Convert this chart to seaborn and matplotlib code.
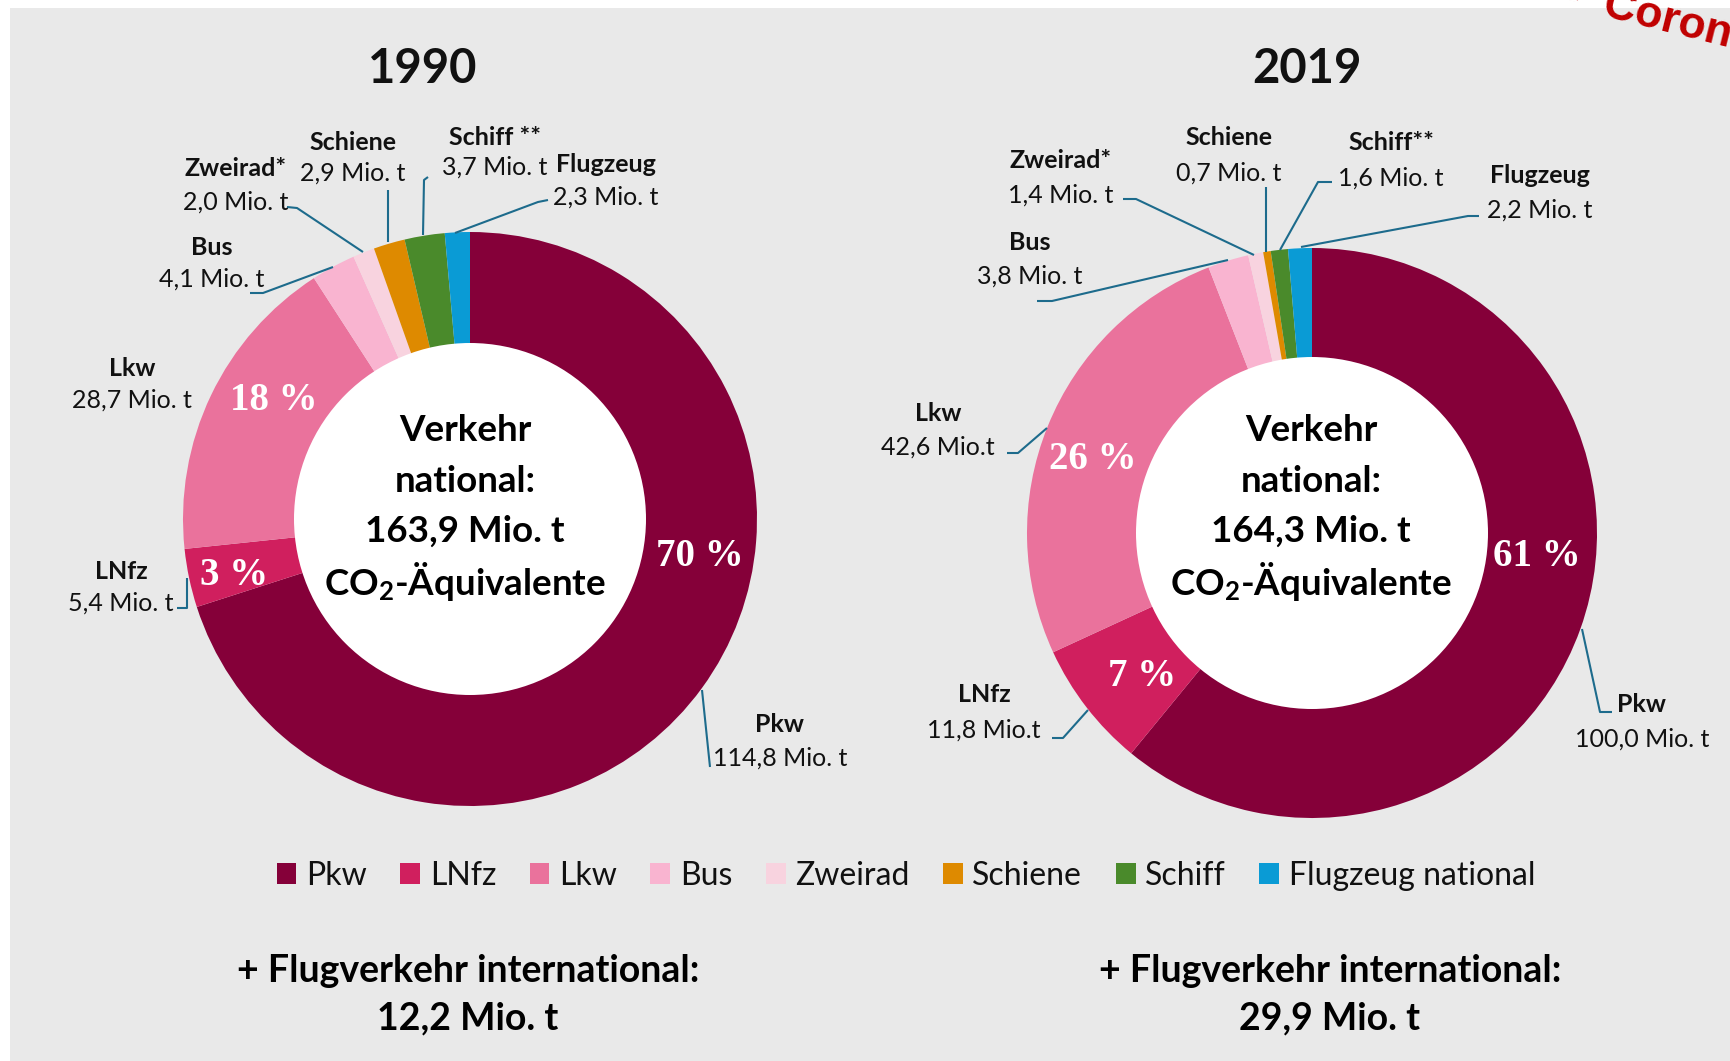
import matplotlib
matplotlib.use("Agg")
import matplotlib.pyplot as plt
from matplotlib.patches import Circle, Rectangle
import seaborn as sns

# ---------------- data ----------------
categories = ["Pkw", "LNfz", "Lkw", "Bus", "Zweirad", "Schiene", "Schiff", "Flugzeug"]
legend_labels = ["Pkw", "LNfz", "Lkw", "Bus", "Zweirad", "Schiene", "Schiff", "Flugzeug national"]
values_1990 = [114.8, 5.4, 28.7, 4.1, 2.0, 2.9, 3.7, 2.3]
values_2019 = [100.0, 11.8, 42.6, 3.8, 1.4, 0.7, 1.6, 2.2]
names_1990 = ["Pkw", "LNfz", "Lkw", "Bus", "Zweirad*", "Schiene", "Schiff **", "Flugzeug"]
names_2019 = ["Pkw", "LNfz", "Lkw", "Bus", "Zweirad*", "Schiene", "Schiff**", "Flugzeug"]
units_1990 = ["Mio. t"] * 8
units_2019 = ["Mio. t", "Mio.t", "Mio.t", "Mio. t", "Mio. t", "Mio. t", "Mio. t", "Mio. t"]
pct_1990 = ["70 %", "3 %", "18 %"]
pct_2019 = ["61 %", "7 %", "26 %"]
years = ["1990", "2019"]
totals = ["163,9", "164,3"]
intl = ["12,2", "29,9"]
colors = ["#850039", "#D01F5E", "#EA729C", "#F9B4D0", "#F8D3DF", "#DE8A00", "#4A8A2B", "#0A9BD5"]

# ---------------- style ----------------
sns.set_theme(style="white")
plt.rcParams["font.family"] = ["Lato", "DejaVu Sans"]
plt.rcParams["mathtext.default"] = "regular"
palette = sns.color_palette(colors)

W, H = 1731, 1061
fig = plt.figure(figsize=(W / 100, H / 100), dpi=100)
fig.patch.set_facecolor("white")
ax = fig.add_axes([0, 0, 1, 1])


def Y(py):
    return H - py


ax.add_patch(Rectangle((10, 0), W - 10, H - 8, facecolor="#E9E9E9", edgecolor="none", zorder=0))

LEADER = "#1D6B8C"
TXT = "#111111"

layouts = [
    dict(
        center=(470, 519), R=287, r=176, title=(423, 69), cx_text=465,
        pct_pos=[(700, 556), (234, 575), (274, 400)],
        labels=[(780, 725, 758), (121, 571, 603), (132, 368, 400), (212, 247, 279),
                (236, 168, 202), (353, 142, 173), (495, 137, 167), (606, 164, 197)],
        leaders=[[(702, 690), (710, 767)],
                 [(177, 608), (187, 608), (187, 578)],
                 [],
                 [(250, 293), (263, 293), (333, 267)],
                 [(287, 207), (297, 208), (363, 252)],
                 [(388, 190), (388, 242)],
                 [(428, 177), (424, 180), (423, 235)],
                 [(548, 200), (538, 202), (455, 233)]],
        bottom=(468, 971, 1018),
    ),
    dict(
        center=(1312, 533), R=285, r=176, title=(1307, 69), cx_text=1311,
        pct_pos=[(1537, 556), (1142, 677), (1093, 459)],
        labels=[(1642, 705, 739), (984, 695, 730), (938, 413, 447), (1030, 242, 276),
                (1061, 160, 195), (1229, 137, 173), (1391, 142, 178), (1540, 175, 210)],
        leaders=[[(1582, 629), (1600, 712), (1612, 712)],
                 [(1052, 738), (1063, 738), (1088, 710)],
                 [(1007, 453), (1018, 453), (1047, 428)],
                 [(1037, 301), (1052, 301), (1228, 260)],
                 [(1123, 199), (1136, 199), (1254, 255)],
                 [(1266, 187), (1266, 252)],
                 [(1332, 182), (1318, 182), (1280, 250)],
                 [(1479, 216), (1468, 216), (1301, 247)]],
        bottom=(1330, 971, 1018),
    ),
]

datasets = [
    (values_1990, names_1990, units_1990, pct_1990),
    (values_2019, names_2019, units_2019, pct_2019),
]

wedges_all = None
for i, (lay, (vals, names, units, pcts)) in enumerate(zip(layouts, datasets)):
    cx, cy = lay["center"]
    wedges, _ = ax.pie(vals, colors=palette, startangle=90, counterclock=False,
                       radius=lay["R"], center=(cx, Y(cy)), frame=True,
                       wedgeprops=dict(linewidth=0, edgecolor="none"))
    if wedges_all is None:
        wedges_all = wedges
    ax.add_patch(Circle((cx, Y(cy)), lay["r"], facecolor="white", edgecolor="none", zorder=3))

    # title
    tx, ty = lay["title"]
    ax.text(tx, Y(ty), years[i], ha="center", va="center", fontsize=34,
            fontweight="bold", color=TXT, zorder=5)

    # centre text
    lines = ["Verkehr", "national:", f"{totals[i]} Mio. t", r"CO$_{2}$-Äquivalente"]
    for line, ly in zip(lines, [430, 481, 531, 581]):
        ax.text(lay["cx_text"], Y(ly), line, ha="center", va="center", fontsize=26.5,
                fontweight="bold", color="black", zorder=5)

    # percent labels
    for p, (px, py) in zip(pcts, lay["pct_pos"]):
        ax.text(px, Y(py), p, ha="center", va="center", fontsize=28, fontweight="bold",
                family=["Liberation Serif", "DejaVu Serif"], color="white", zorder=5)

    # category labels + leader lines
    for name, v, unit, (lx, ny, vy), leader in zip(names, vals, units, lay["labels"], lay["leaders"]):
        ax.text(lx, Y(ny), name, ha="center", va="center", fontsize=18,
                fontweight="bold", color=TXT, zorder=5)
        ax.text(lx, Y(vy), f"{v:.1f}".replace(".", ",") + " " + unit, ha="center",
                va="center", fontsize=18, color=TXT, zorder=5)
        if leader:
            xs = [p[0] for p in leader]
            ys = [Y(p[1]) for p in leader]
            ax.plot(xs, ys, color=LEADER, lw=1.5, zorder=4, solid_capstyle="butt")

    # international aviation
    bx, by1, by2 = lay["bottom"]
    ax.text(bx, Y(by1), "+ Flugverkehr international:", ha="center", va="center",
            fontsize=27, fontweight="bold", color="black", zorder=5)
    ax.text(bx, Y(by2), f"{intl[i]} Mio. t", ha="center", va="center",
            fontsize=27, fontweight="bold", color="black", zorder=5)

# legend
leg = ax.legend(wedges_all, legend_labels, loc="center", bbox_to_anchor=(906, Y(876)),
                bbox_transform=ax.transData, ncol=8, frameon=False, fontsize=23,
                handlelength=0.62, handleheight=0.62, handletextpad=0.3,
                columnspacing=1.05, borderpad=0)
for t in leg.get_texts():
    t.set_color(TXT)

# red overlay text (top right corner, cropped by the image edge as in the source)
ax.text(1563, Y(6), "-  Corona", ha="left", va="baseline", rotation=-14,
        rotation_mode="anchor", fontsize=32, fontweight="bold", color="#C00000",
        family=["Liberation Sans", "DejaVu Sans"], zorder=6)

ax.set_xlim(0, W)
ax.set_ylim(0, H)
ax.set_aspect("equal")
ax.set_axis_off()

fig.savefig("out.png", dpi=100, facecolor="white")
